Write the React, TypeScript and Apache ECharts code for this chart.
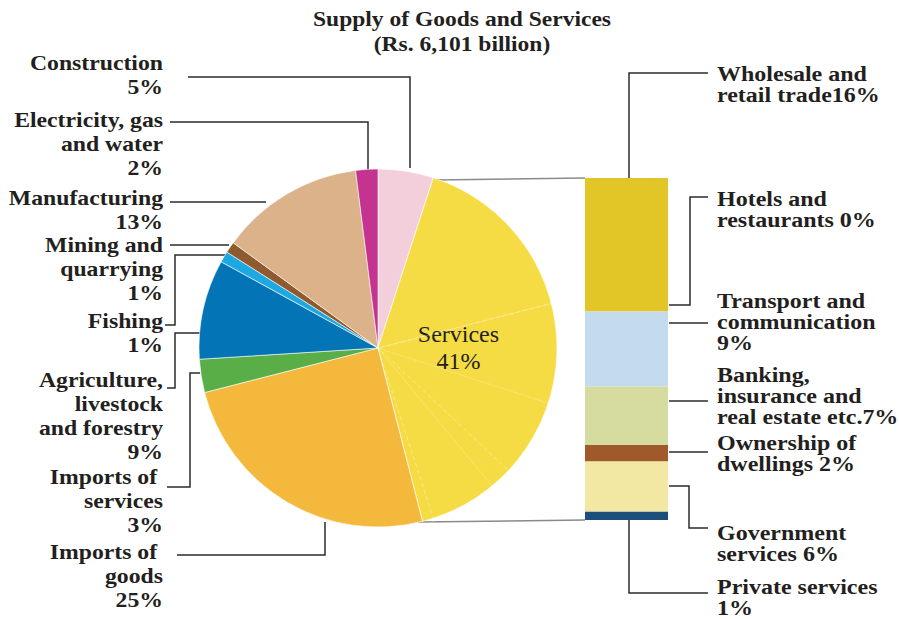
import React, { useEffect, useRef } from "react";
import * as echarts from "echarts";

// ---- Data ----
const titleLines = ["Supply of Goods and Services", "(Rs. 6,101 billion)"];

const pieCategories = [
  "Construction",
  "Services",
  "Imports of goods",
  "Imports of services",
  "Agriculture, livestock and forestry",
  "Fishing",
  "Mining and quarrying",
  "Manufacturing",
  "Electricity, gas and water",
];
// label text as printed (line breaks + separator before the value)
const pieLabelNames = [
  "Construction\n",
  "Services\n",
  "Imports of \ngoods\n",
  "Imports of \nservices\n",
  "Agriculture,\nlivestock\nand forestry\n",
  "Fishing\n",
  "Mining and\nquarrying\n",
  "Manufacturing\n",
  "Electricity, gas\nand water\n",
];
const pieValues = [5, 41, 25, 3, 9, 1, 1, 13, 2];
const pieColors = [
  "#f3cfdc",
  "#f6dc44",
  "#f4b83c",
  "#5aae48",
  "#0374b6",
  "#1ea8e2",
  "#8e5a2e",
  "#dbb28a",
  "#c4338f",
];

const serviceCategories = [
  "Wholesale and retail trade",
  "Hotels and restaurants",
  "Transport and communication",
  "Banking, insurance and real estate etc.",
  "Ownership of dwellings",
  "Government services",
  "Private services",
];
const serviceLabelNames = [
  "Wholesale and\nretail trade",
  "Hotels and\nrestaurants ",
  "Transport and\ncommunication\n",
  "Banking,\ninsurance and\nreal estate etc.",
  "Ownership of\ndwellings ",
  "Government\nservices ",
  "Private services\n",
];
const serviceValues = [16, 0, 9, 7, 2, 6, 1];
const serviceColors = [
  "#e2c627",
  "#e2c627",
  "#c3dbed",
  "#d6dba0",
  "#a0592a",
  "#f2e8a3",
  "#1c4f7b",
];

// ---- Layout (positions only) ----
const CX = 378;
const CY = 348;
const R = 179;
const BAR_LEFT = 585;
const BAR_TOP = 178;
const BAR_W = 83;
const BAR_H = 342;

const FONT = "Liberation Serif";
const INK = "#231f20";
const LINE = "#2b2b2b";

// left label anchors: [right x, first line centre y]
const pieLabelPos: Record<number, [number, number]> = {
  0: [163, 63],
  8: [163, 120],
  7: [163, 198],
  6: [163, 245],
  5: [163, 321],
  4: [163, 380],
  3: [163, 477],
  2: [163, 552],
};
const pieLeader: Record<number, number[][]> = {
  0: [[188, 77], [410, 77], [410, 168]],
  8: [[170, 122], [368, 122], [368, 170]],
  7: [[170, 202], [266, 202]],
  6: [[170, 245], [229, 245]],
  5: [[229, 255], [175, 255], [175, 325], [165, 325]],
  4: [[200, 333], [175, 333], [175, 388], [167, 388]],
  3: [[200, 373], [190, 373], [190, 487], [167, 487]],
  2: [[325, 522], [325, 555], [177, 555]],
};
const serviceLabelPos: [number, number][] = [
  [717, 75],
  [717, 200],
  [717, 302],
  [717, 376],
  [717, 444],
  [717, 534],
  [717, 588],
];
const serviceLeader: number[][][] = [
  [[629, 178], [629, 73], [708, 73]],
  [[669, 305], [690, 305], [690, 197], [708, 197]],
  [[669, 323], [708, 323]],
  [[669, 401], [708, 401]],
  [[669, 452], [708, 452]],
  [[669, 486], [689, 486], [689, 528], [708, 528]],
  [[629, 520], [629, 593], [708, 593]],
];

export default function App() {
  const ref = useRef<HTMLDivElement>(null);

  useEffect(() => {
    if (!ref.current) return;
    const chart = echarts.init(ref.current, undefined, { renderer: "svg" });

    const servicesIdx = pieCategories.indexOf("Services");

    const graphics: any[] = [];
    // title
    graphics.push({
      type: "text",
      x: 462,
      y: 6,
      scaleX: 1.07,
      style: {
        text: titleLines.join("\n"),
        fontFamily: FONT,
        fontWeight: "bold",
        fontSize: 22,
        lineHeight: 25,
        fill: INK,
        align: "center",
        verticalAlign: "top",
      },
    });
    // pie labels + leaders
    pieCategories.forEach((_, i) => {
      if (i === servicesIdx) return;
      const p = pieLabelPos[i];
      graphics.push({
        type: "text",
        x: p[0],
        y: p[1] - 12,
        scaleX: 1.13,
        style: {
          text: pieLabelNames[i] + pieValues[i] + "%",
          fontFamily: FONT,
          fontWeight: "bold",
          fontSize: 21,
          lineHeight: 24,
          fill: INK,
          align: "right",
          verticalAlign: "top",
        },
      });
      graphics.push({
        type: "polyline",
        shape: { points: pieLeader[i] },
        style: { stroke: LINE, lineWidth: 1.5, fill: null },
      });
    });
    // services labels + leaders
    serviceCategories.forEach((_, i) => {
      const p = serviceLabelPos[i];
      graphics.push({
        type: "text",
        x: p[0],
        y: p[1] - 11,
        scaleX: 1.2,
        style: {
          text: serviceLabelNames[i] + serviceValues[i] + "%",
          fontFamily: FONT,
          fontWeight: "bold",
          fontSize: 20,
          lineHeight: 21,
          fill: INK,
          align: "left",
          verticalAlign: "top",
        },
      });
      graphics.push({
        type: "polyline",
        shape: { points: serviceLeader[i] },
        style: { stroke: LINE, lineWidth: 1.5, fill: null },
      });
    });
    // connectors pie -> bar
    graphics.push({
      type: "line",
      shape: { x1: 435, y1: 180, x2: BAR_LEFT, y2: BAR_TOP },
      style: { stroke: "#8a8a8a", lineWidth: 1.5 },
    });
    graphics.push({
      type: "line",
      shape: { x1: 418, y1: 522, x2: BAR_LEFT, y2: BAR_TOP + BAR_H },
      style: { stroke: "#8a8a8a", lineWidth: 1.5 },
    });

    const total = serviceValues.reduce((a, b) => a + b, 0);

    // overlay pie: faint dashed subdivisions of the Services slice
    const before = pieValues.slice(0, servicesIdx).reduce((a, b) => a + b, 0);
    const after = pieValues
      .slice(servicesIdx + 1)
      .reduce((a, b) => a + b, 0);
    const overlayData = [
      { name: "before", value: before, itemStyle: { color: "rgba(0,0,0,0)", borderWidth: 0 } },
      ...serviceCategories.map((name, i) => ({
        name,
        value: serviceValues[i],
        itemStyle: {
          color: "rgba(0,0,0,0)",
          borderColor: "rgba(255,255,255,0.25)",
          borderWidth: 0.8,
          borderType: [4, 3],
        },
      })),
      { name: "after", value: after, itemStyle: { color: "rgba(0,0,0,0)", borderWidth: 0 } },
    ];

    chart.setOption({
      animation: false,
      backgroundColor: "#ffffff",
      grid: {
        left: BAR_LEFT,
        top: BAR_TOP,
        width: BAR_W,
        height: BAR_H,
        containLabel: false,
      },
      xAxis: {
        type: "category",
        data: ["Services"],
        show: false,
      },
      yAxis: {
        type: "value",
        min: 0,
        max: total,
        inverse: true,
        show: false,
      },
      series: [
        {
          type: "pie",
          center: [CX, CY],
          radius: R,
          startAngle: 90,
          clockwise: true,
          silent: true,
          itemStyle: { borderColor: "#ffffff", borderWidth: 0.6 },
          label: { show: false },
          labelLine: { show: false },
          data: pieCategories.map((name, i) => ({
            name,
            value: pieValues[i],
            itemStyle: { color: pieColors[i] },
            label:
              i === servicesIdx
                ? {
                    show: true,
                    position: "inside",
                    formatter: () =>
                      pieLabelNames[i] + pieValues[i] + "%",
                    fontFamily: FONT,
                    fontSize: 24,
                    lineHeight: 27,
                    color: INK,
                    offset: [-12, -3],
                  }
                : { show: false },
          })),
        },
        {
          type: "pie",
          center: [CX, CY],
          radius: R + 3,
          startAngle: 90,
          clockwise: true,
          silent: true,
          z: 3,
          label: { show: false },
          labelLine: { show: false },
          data: overlayData,
        },
        ...serviceCategories.map((name, i) => ({
          type: "bar",
          name,
          stack: "services",
          barWidth: "100%",
          silent: true,
          itemStyle: { color: serviceColors[i] },
          data: [serviceValues[i]],
        })),
      ],
      graphic: graphics,
    });

    return () => chart.dispose();
  }, []);

  return (
    <div
      ref={ref}
      style={{ position: "fixed", left: 0, top: 0, width: 899, height: 619 }}
    />
  );
}
